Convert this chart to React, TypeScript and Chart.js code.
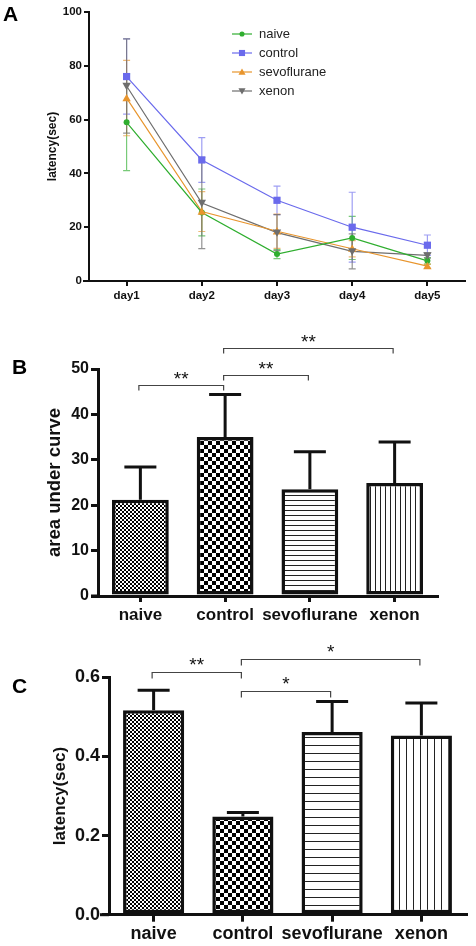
import React, { useEffect, useRef } from 'react';
import { Chart, registerables } from 'chart.js';

Chart.register(...registerables);

const FONT = '"Liberation Sans", Arial, Helvetica, sans-serif';
const INK = '#111111';

// ---------- Panel A: latency per day ----------
const days = ['day1', 'day2', 'day3', 'day4', 'day5'];
const groupNames = ['naive', 'control', 'sevoflurane', 'xenon'];
const naiveLatency = [59, 25.5, 10, 16, 7.5];
const naiveSem = [18, 8.7, 1.7, 8, 1.2];
const controlLatency = [76, 45, 30, 20, 13.3];
const controlSem = [14, 8.3, 5.3, 13, 3.8];
const sevoLatency = [68, 25.8, 18.5, 12, 5.5];
const sevoSem = [14, 7.4, 6.4, 3, 0.8];
const xenonLatency = [72.5, 29, 18, 11, 9.5];
const xenonSem = [17.5, 17, 6.7, 6.5, 1];
const aTicks = [0, 20, 40, 60, 80, 100];

// ---------- Panel B: area under curve ----------
const aucMeans = [21.2, 35.0, 23.5, 24.9];
const aucSem = [7.2, 9.4, 8.3, 9.0];
const bTicks = [0, 10, 20, 30, 40, 50];
const aucSigFrom = [0, 1, 1];
const aucSigTo = [1, 2, 3];
const aucSigLevel = [46.5, 48.7, 54.6];
const aucSigLabel = ['**', '**', '**'];

// ---------- Panel C: probe latency ----------
const probeLatency = [0.517, 0.248, 0.462, 0.453];
const probeSem = [0.05, 0.01, 0.077, 0.082];
const cTicks = [0, 0.2, 0.4, 0.6];
const probeSigFrom = [0, 1, 1];
const probeSigTo = [1, 2, 3];
const probeSigLevel = [0.614, 0.566, 0.647];
const probeSigLabel = ['**', '*', '*'];

// styles
const lineColors = ['#2fae2f', '#6a6aec', '#e8952d', '#6e6e6e'];
const errColors = ['rgba(47,174,47,0.65)', 'rgba(106,106,236,0.65)', 'rgba(232,149,45,0.65)', 'rgba(110,110,110,0.75)'];
const markers = ['circle', 'rect', 'triangle', 'triangleDown'];
const markerSizes = [3, 3.6, 4.2, 4.2];

function drawMarker(ctx: CanvasRenderingContext2D, kind: string, x: number, y: number, r: number, color: string) {
  ctx.save();
  ctx.fillStyle = color;
  ctx.beginPath();
  if (kind === 'circle') ctx.arc(x, y, r, 0, Math.PI * 2);
  else if (kind === 'rect') ctx.rect(x - r, y - r, 2 * r, 2 * r);
  else if (kind === 'triangle') {
    ctx.moveTo(x, y - r);
    ctx.lineTo(x + r, y + r * 0.75);
    ctx.lineTo(x - r, y + r * 0.75);
  } else {
    ctx.moveTo(x, y + r);
    ctx.lineTo(x + r, y - r * 0.75);
    ctx.lineTo(x - r, y - r * 0.75);
  }
  ctx.closePath();
  ctx.fill();
  ctx.restore();
}

function makePattern(ctx: CanvasRenderingContext2D, kind: string, size: number) {
  const c = document.createElement('canvas');
  const p = c.getContext('2d')!;
  if (kind === 'checker') {
    c.width = size * 2;
    c.height = size * 2;
    p.fillStyle = '#fff';
    p.fillRect(0, 0, c.width, c.height);
    p.fillStyle = '#000';
    p.fillRect(0, 0, size, size);
    p.fillRect(size, size, size, size);
  } else if (kind === 'hlines') {
    c.width = 4;
    c.height = size;
    p.fillStyle = '#fff';
    p.fillRect(0, 0, c.width, c.height);
    p.fillStyle = '#222';
    p.fillRect(0, 0, 4, 1);
  } else {
    c.width = size;
    c.height = 4;
    p.fillStyle = '#fff';
    p.fillRect(0, 0, c.width, c.height);
    p.fillStyle = '#222';
    p.fillRect(0, 0, 1, 4);
  }
  return ctx.createPattern(c, 'repeat') as CanvasPattern;
}

function letterPlugin(letter: string, x: number, y: number, family: string) {
  return {
    id: 'letter' + letter,
    afterDraw(chart: any) {
      const ctx = chart.ctx;
      ctx.save();
      ctx.fillStyle = '#000';
      ctx.font = `bold 21px ${family}`;
      ctx.textAlign = 'left';
      ctx.textBaseline = 'alphabetic';
      ctx.fillText(letter, x, y);
      ctx.restore();
    },
  };
}

function axisExtPlugin(ext: number, width: number) {
  return {
    id: 'axisExt',
    afterDraw(chart: any) {
      const { ctx, chartArea } = chart;
      ctx.save();
      ctx.strokeStyle = INK;
      ctx.lineWidth = width;
      ctx.beginPath();
      ctx.moveTo(chartArea.left - ext, chartArea.bottom);
      ctx.lineTo(chartArea.left, chartArea.bottom);
      ctx.stroke();
      ctx.restore();
    },
  };
}

const lineErrorPlugin = {
  id: 'lineErrors',
  beforeDatasetsDraw(chart: any) {
    const ctx = chart.ctx;
    const y = chart.scales.y;
    chart.data.datasets.forEach((ds: any, d: number) => {
      const meta = chart.getDatasetMeta(d);
      meta.data.forEach((pt: any, i: number) => {
        const v = ds.data[i];
        const e = ds.errors[i];
        const yt = y.getPixelForValue(v + e);
        const yb = y.getPixelForValue(v - e);
        ctx.save();
        ctx.strokeStyle = ds.errColor;
        ctx.lineWidth = 1.2;
        ctx.beginPath();
        ctx.moveTo(pt.x, yt);
        ctx.lineTo(pt.x, yb);
        ctx.moveTo(pt.x - 3.5, yt);
        ctx.lineTo(pt.x + 3.5, yt);
        ctx.moveTo(pt.x - 3.5, yb);
        ctx.lineTo(pt.x + 3.5, yb);
        ctx.stroke();
        ctx.restore();
      });
    });
  },
};

const legendPlugin = {
  id: 'insideLegend',
  afterDraw(chart: any) {
    const ctx = chart.ctx;
    chart.data.datasets.forEach((ds: any, d: number) => {
      const yy = 34 + d * 19;
      ctx.save();
      ctx.strokeStyle = ds.borderColor;
      ctx.lineWidth = 1.2;
      ctx.beginPath();
      ctx.moveTo(232, yy);
      ctx.lineTo(252, yy);
      ctx.stroke();
      drawMarker(ctx, ds.marker, 242, yy, ds.markerSize * 0.85, ds.borderColor);
      ctx.fillStyle = '#222';
      ctx.font = `13px ${FONT}`;
      ctx.textAlign = 'left';
      ctx.textBaseline = 'middle';
      ctx.fillText(ds.label, 259, yy + 0.5);
      ctx.restore();
    });
  },
};

const markerPlugin = {
  id: 'markers',
  afterDatasetsDraw(chart: any) {
    const ctx = chart.ctx;
    chart.data.datasets.forEach((ds: any, d: number) => {
      const meta = chart.getDatasetMeta(d);
      meta.data.forEach((pt: any) => drawMarker(ctx, ds.marker, pt.x, pt.y, ds.markerSize, ds.borderColor));
    });
  },
};

function barErrorPlugin(capHalf: number) {
  return {
    id: 'barErrors',
    afterDatasetsDraw(chart: any) {
      const ctx = chart.ctx;
      const y = chart.scales.y;
      const ds: any = chart.data.datasets[0];
      const meta = chart.getDatasetMeta(0);
      meta.data.forEach((bar: any, i: number) => {
        const ye = y.getPixelForValue(ds.data[i] + ds.errors[i]);
        ctx.save();
        ctx.strokeStyle = INK;
        ctx.lineWidth = 3;
        ctx.beginPath();
        ctx.moveTo(bar.x, bar.y);
        ctx.lineTo(bar.x, ye);
        ctx.moveTo(bar.x - capHalf, ye);
        ctx.lineTo(bar.x + capHalf, ye);
        ctx.stroke();
        ctx.restore();
      });
    },
  };
}

function bracketPlugin(from: number[], to: number[], level: number[], label: string[], drop: number, textLift: number) {
  return {
    id: 'brackets',
    afterDraw(chart: any) {
      const ctx = chart.ctx;
      const xs = chart.scales.x;
      const ys = chart.scales.y;
      from.forEach((f, k) => {
        const x1 = xs.getPixelForValue(f) - 1.5;
        const x2 = xs.getPixelForValue(to[k]) - 1.5;
        const yy = Math.round(ys.getPixelForValue(level[k])) + 0.5;
        ctx.save();
        ctx.strokeStyle = '#444';
        ctx.lineWidth = 1.2;
        ctx.beginPath();
        ctx.moveTo(x1, yy + drop);
        ctx.lineTo(x1, yy);
        ctx.lineTo(x2, yy);
        ctx.lineTo(x2, yy + drop);
        ctx.stroke();
        ctx.fillStyle = '#111';
        ctx.font = `19px ${FONT}`;
        ctx.textAlign = 'center';
        ctx.textBaseline = 'alphabetic';
        ctx.fillText(label[k], (x1 + x2) / 2, yy - textLift);
        ctx.restore();
      });
    },
  };
}

function axisOpts(tickLen: number, width: number) {
  return {
    grid: { display: true, offset: false, drawOnChartArea: false, drawTicks: true, tickLength: tickLen, lineWidth: width, color: INK },
    border: { display: true, width: width, color: INK },
  };
}

export default function App() {
  const refA = useRef<HTMLCanvasElement>(null);
  const refB = useRef<HTMLCanvasElement>(null);
  const refC = useRef<HTMLCanvasElement>(null);

  useEffect(() => {
    const charts: Chart[] = [];
    const means = [naiveLatency, controlLatency, sevoLatency, xenonLatency];
    const sems = [naiveSem, controlSem, sevoSem, xenonSem];

    // Panel A
    charts.push(
      new Chart(refA.current!, {
        type: 'line',
        data: {
          labels: days,
          datasets: groupNames.map((name, d) => ({
            label: name,
            data: means[d],
            errors: sems[d],
            errColor: errColors[d],
            marker: markers[d],
            markerSize: markerSizes[d],
            borderColor: lineColors[d],
            backgroundColor: lineColors[d],
            borderWidth: 1.2,
            pointRadius: 0,
            tension: 0,
          })) as any,
        },
        options: {
          animation: false,
          responsive: false,
          layout: { padding: { left: 0, right: 11, top: 12, bottom: 0 } },
          plugins: { legend: { display: false }, tooltip: { enabled: false } },
          scales: {
            x: {
              type: 'category',
              offset: true,
              ...axisOpts(5, 2),
              ticks: { font: { family: FONT, size: 11.5, weight: 'bold' }, color: INK, padding: 3, autoSkip: false, maxRotation: 0, minRotation: 0 },
              afterFit: (s: any) => { s.height = 24; },
            },
            y: {
              min: 0,
              max: 100,
              ...axisOpts(5, 2),
              afterBuildTicks: (s: any) => { s.ticks = aTicks.map((value) => ({ value })); },
              ticks: { font: { family: FONT, size: 11.5, weight: 'bold' }, color: INK, padding: 2 },
              title: { display: true, text: 'latency(sec)', color: INK, font: { family: FONT, size: 12, weight: 'bold' }, padding: { top: 45, bottom: 0 } },
              afterFit: (s: any) => { s.width = 89; },
            },
          },
        } as any,
        plugins: [lineErrorPlugin, markerPlugin, legendPlugin, axisExtPlugin(6, 2), letterPlugin('A', 3, 21, FONT)],
      })
    );

    // Panel B
    const ctxB = refB.current!.getContext('2d')!;
    const patB = [makePattern(ctxB, 'checker', 2), makePattern(ctxB, 'checker', 4), makePattern(ctxB, 'hlines', 5), makePattern(ctxB, 'vlines', 5)];
    charts.push(
      new Chart(refB.current!, {
        type: 'bar',
        data: {
          labels: groupNames,
          datasets: [
            {
              data: aucMeans,
              errors: aucSem,
              backgroundColor: patB,
              borderColor: INK,
              borderWidth: 3.5,
              borderSkipped: false,
              barPercentage: 0.67,
              categoryPercentage: 1,
            } as any,
          ],
        },
        options: {
          animation: false,
          responsive: false,
          layout: { padding: { left: 0, right: 39, top: 64, bottom: 0 } },
          plugins: { legend: { display: false }, tooltip: { enabled: false } },
          scales: {
            x: {
              offset: true,
              ...axisOpts(6, 3),
              ticks: { font: { family: FONT, size: 17, weight: 'bold' }, color: INK, padding: 3, autoSkip: false, maxRotation: 0, minRotation: 0 },
              afterFit: (s: any) => { s.height = 29; },
            },
            y: {
              min: 0,
              max: 50,
              ...axisOpts(7, 3),
              afterBuildTicks: (s: any) => { s.ticks = bTicks.map((value) => ({ value })); },
              ticks: { font: { family: FONT, size: 16, weight: 'bold' }, color: INK, padding: 2 },
              title: { display: true, text: 'area under curve', color: INK, font: { family: FONT, size: 18.5, weight: 'bold' }, padding: { top: 44, bottom: 0 } },
              afterFit: (s: any) => { s.width = 98; },
            },
          },
        } as any,
        plugins: [barErrorPlugin(16), bracketPlugin(aucSigFrom, aucSigTo, aucSigLevel, aucSigLabel, 5, 1), axisExtPlugin(7, 3), letterPlugin('B', 12, 69, FONT)],
      })
    );

    // Panel C
    const ctxC = refC.current!.getContext('2d')!;
    const patC = [makePattern(ctxC, 'checker', 2), makePattern(ctxC, 'checker', 4), makePattern(ctxC, 'hlines', 8), makePattern(ctxC, 'vlines', 7)];
    charts.push(
      new Chart(refC.current!, {
        type: 'bar',
        data: {
          labels: groupNames,
          datasets: [
            {
              data: probeLatency,
              errors: probeSem,
              backgroundColor: patC,
              borderColor: INK,
              borderWidth: 3.5,
              borderSkipped: false,
              barPercentage: 0.685,
              categoryPercentage: 1,
            } as any,
          ],
        },
        options: {
          animation: false,
          responsive: false,
          layout: { padding: { left: 0, right: 10, top: 52.3, bottom: 0 } },
          plugins: { legend: { display: false }, tooltip: { enabled: false } },
          scales: {
            x: {
              offset: true,
              ...axisOpts(7, 3),
              ticks: { font: { family: FONT, size: 18, weight: 'bold' }, color: INK, padding: 2, autoSkip: false, maxRotation: 0, minRotation: 0 },
              afterFit: (s: any) => { s.height = 31.3; },
            },
            y: {
              min: 0,
              max: 0.6,
              ...axisOpts(7, 3),
              afterBuildTicks: (s: any) => { s.ticks = cTicks.map((value) => ({ value })); },
              ticks: { font: { family: FONT, size: 18, weight: 'bold' }, color: INK, padding: 2, callback: (v: any) => Number(v).toFixed(1) },
              title: { display: true, text: 'latency(sec)', color: INK, font: { family: FONT, size: 17, weight: 'bold' }, padding: { top: 50, bottom: 0 } },
              afterFit: (s: any) => { s.width = 109; },
            },
          },
        } as any,
        plugins: [barErrorPlugin(16), bracketPlugin(probeSigFrom, probeSigTo, probeSigLevel, probeSigLabel, 6, 2), axisExtPlugin(9, 3), letterPlugin('C', 12, 68, FONT)],
      })
    );

    return () => charts.forEach((c) => c.destroy());
  }, []);

  const box: React.CSSProperties = { position: 'absolute', left: 0, display: 'block' };
  return (
    <div style={{ position: 'absolute', left: 0, top: 0, width: 476, height: 946, background: '#fff', overflow: 'hidden' }}>
      <canvas ref={refA} width={476} height={305} style={{ ...box, top: 0, width: 476, height: 305 }} />
      <canvas ref={refB} width={476} height={320} style={{ ...box, top: 305, width: 476, height: 320 }} />
      <canvas ref={refC} width={476} height={321} style={{ ...box, top: 625, width: 476, height: 321 }} />
    </div>
  );
}
